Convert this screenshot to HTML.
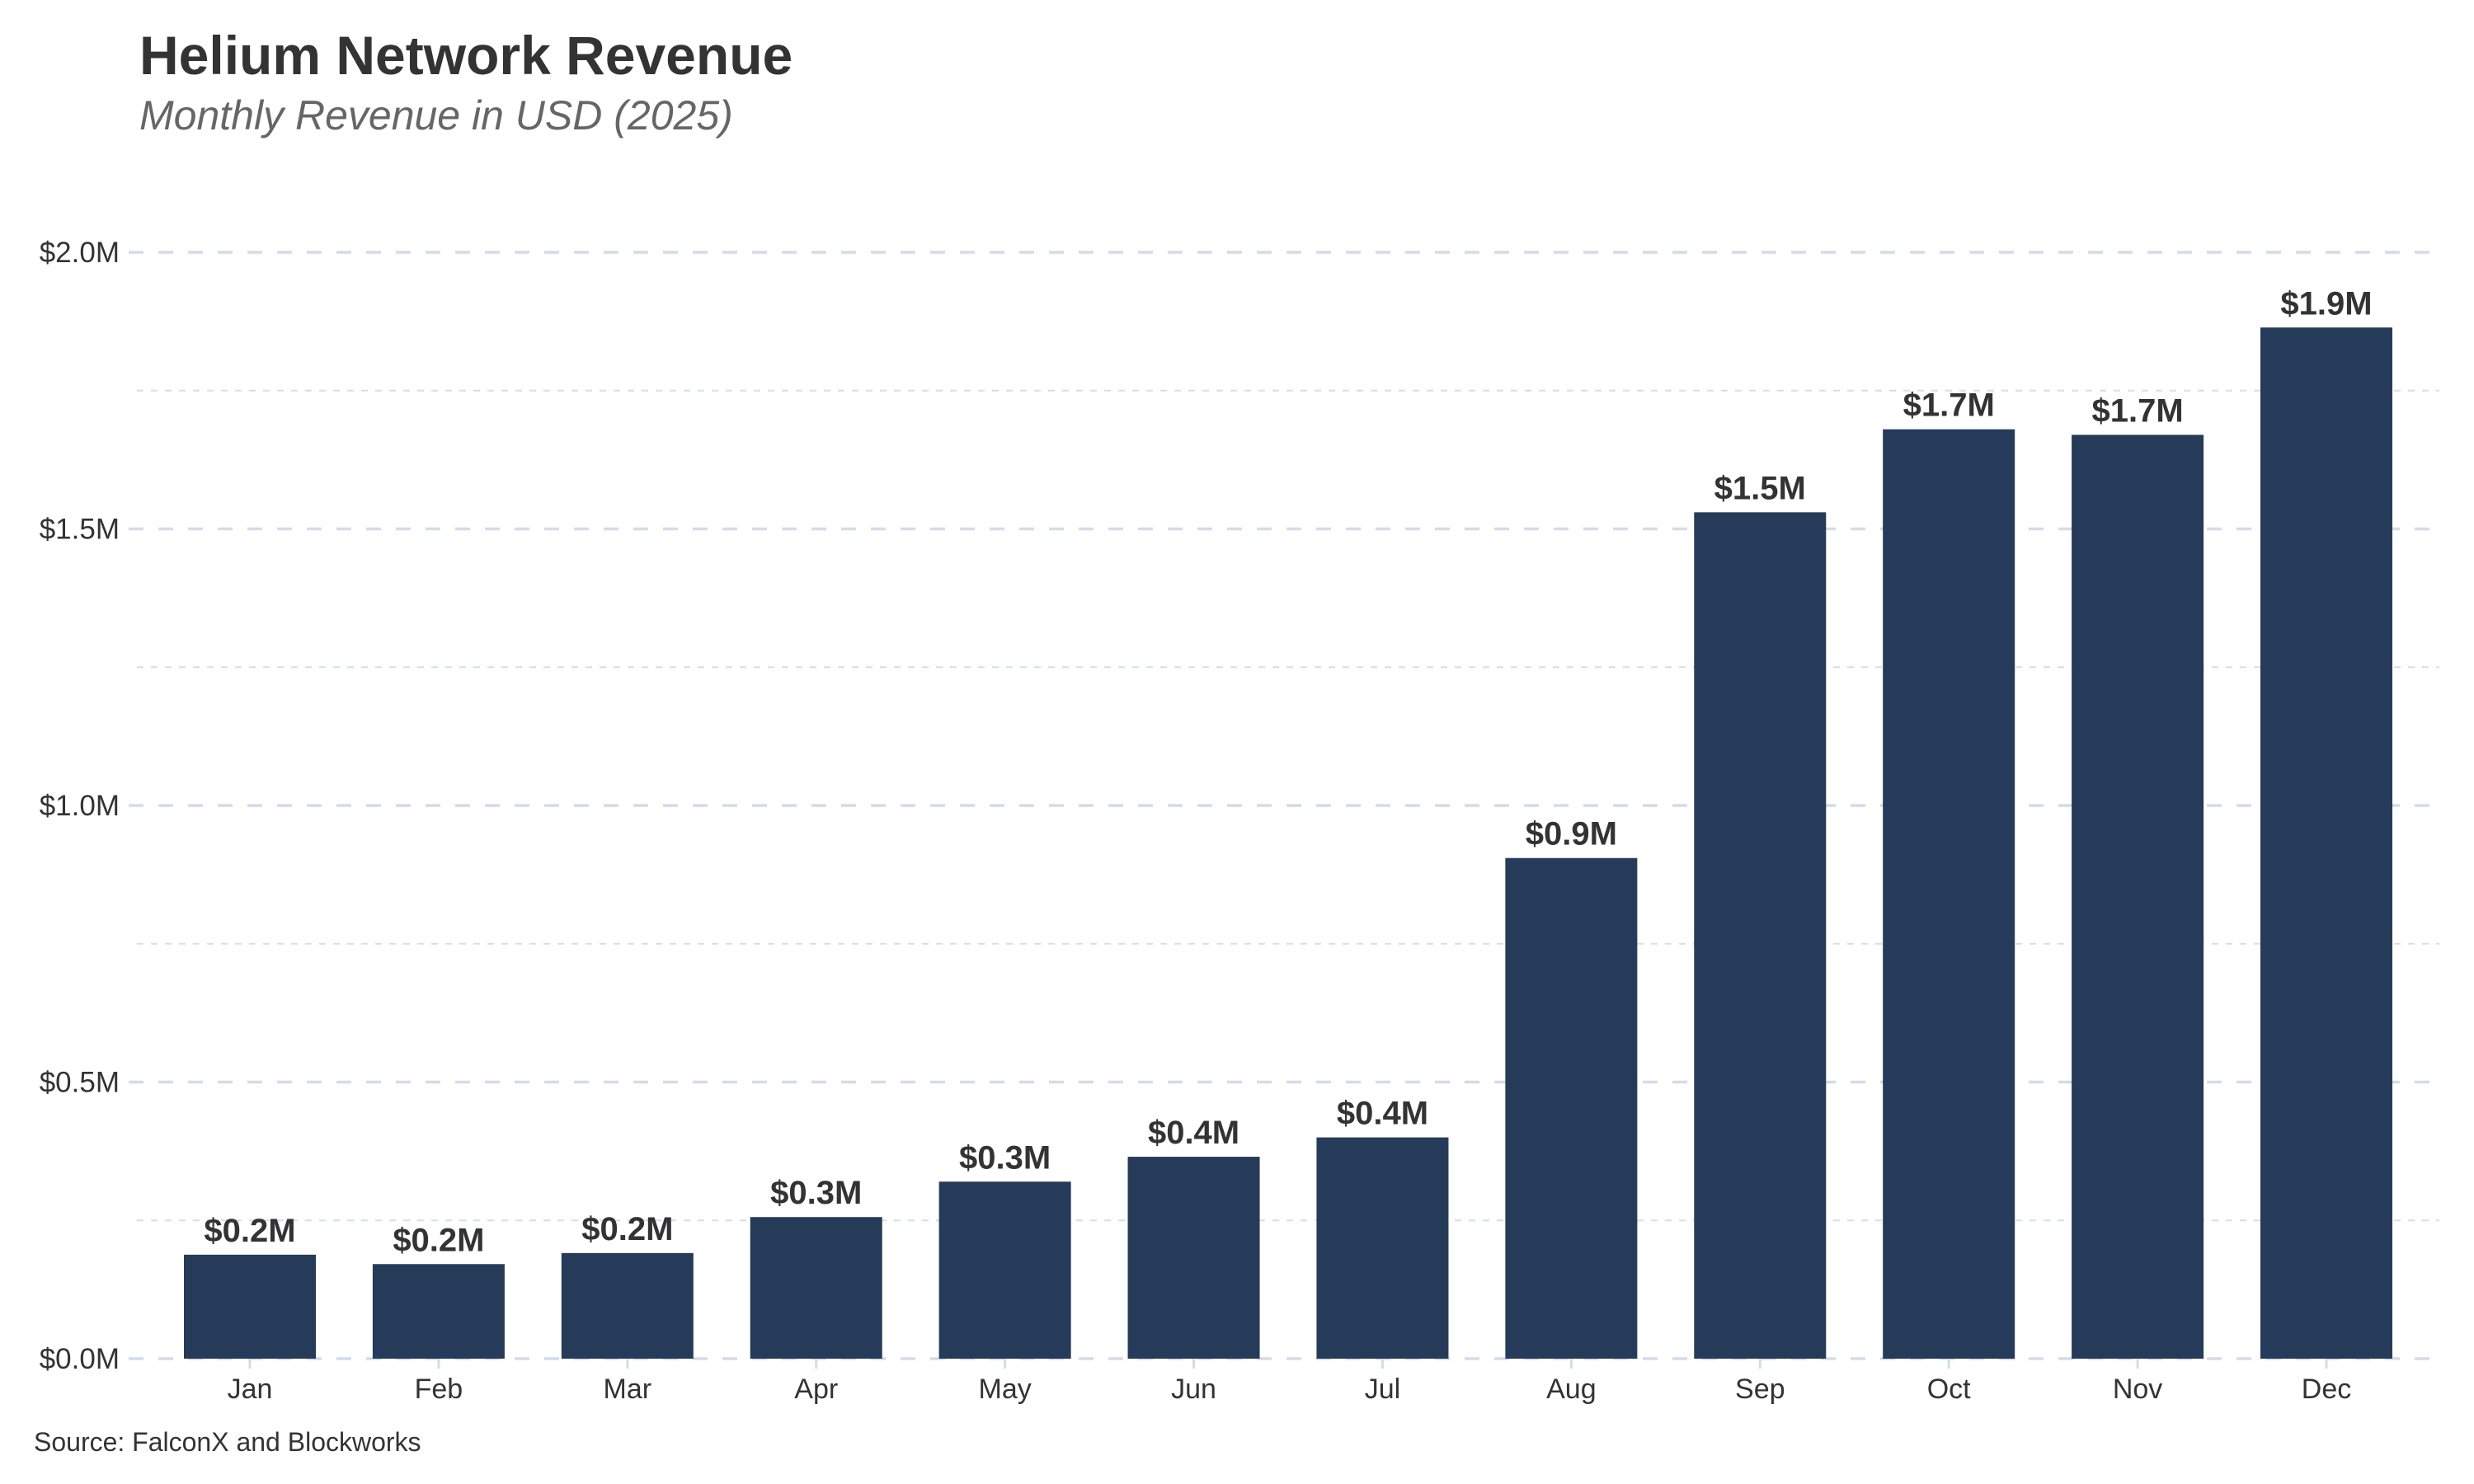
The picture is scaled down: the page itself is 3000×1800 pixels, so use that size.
<!DOCTYPE html>
<html><head><meta charset="utf-8"><style>
html,body{margin:0;padding:0;background:#fff;}
svg{display:block;font-family:"Liberation Sans",sans-serif;}
</style></head><body>
<svg id="chart" width="3000" height="1800" viewBox="0 0 3000 1800" xmlns="http://www.w3.org/2000/svg">
<text x="169" y="90" font-size="66" font-weight="bold" fill="#333">Helium Network Revenue</text>
<text x="169" y="157" font-size="50" font-style="italic" fill="#666">Monthly Revenue in USD (2025)</text>
<g id="grid"></g>
<g id="bars"></g>
<g id="labels"></g>
<text x="41" y="1760" font-size="32" fill="#333">Source: FalconX and Blockworks</text>
</svg>
<script>
const categories = ["Jan","Feb","Mar","Apr","May","Jun","Jul","Aug","Sep","Oct","Nov","Dec"];
const revenue = [0.188,0.171,0.191,0.256,0.32,0.365,0.40,0.905,1.53,1.68,1.67,1.864];
const valueLabels = ["$0.2M","$0.2M","$0.2M","$0.3M","$0.3M","$0.4M","$0.4M","$0.9M","$1.5M","$1.7M","$1.7M","$1.9M"];
const majorTicks = [0,0.5,1.0,1.5,2.0];
const majorTickLabels = ["$0.0M","$0.5M","$1.0M","$1.5M","$2.0M"];
const minorTicks = [0.25,0.75,1.25,1.75];

const NS="http://www.w3.org/2000/svg";
const y0=1648, yTop=306, yMax=2.0;
function yScale(v){return y0-(v/yMax)*(y0-yTop);}
const xFirst=303, step=(2821-303)/11, barW=160;
function xScale(i){return xFirst+i*step;}
function mk(tag,attrs,parent){const e=document.createElementNS(NS,tag);for(const k in attrs)e.setAttribute(k,attrs[k]);parent.appendChild(e);return e;}
const grid=document.getElementById('grid'),bars=document.getElementById('bars'),labels=document.getElementById('labels');
minorTicks.forEach(t=>{
  const l=mk('line',{x1:166,x2:2958,y1:yScale(t),y2:yScale(t),stroke:'#d6deeb','stroke-width':2,'stroke-dasharray':'8 9'},grid);
  
  
});
majorTicks.forEach((t,i)=>{
  const l=mk('line',{x1:156,x2:2958,y1:yScale(t),y2:yScale(t),stroke:'#d3dcea','stroke-width':3.5,'stroke-dasharray':'18 18'},grid);
  
  
  const tx=mk('text',{x:145,y:yScale(t)+12,'text-anchor':'end','font-size':35,fill:'#333'},grid);
  tx.textContent=majorTickLabels[i];
  
  
});
categories.forEach((c,i)=>{
  const cx=xScale(i);
  const tk=mk('line',{x1:cx,x2:cx,y1:y0,y2:y0+12,stroke:'#d3dcea','stroke-width':3},grid);
  
  
  const r=mk('rect',{x:cx-barW/2,y:yScale(revenue[i]),width:barW,height:y0-yScale(revenue[i]),fill:'#263b59'},bars);
  
  
  const v=mk('text',{x:cx,y:yScale(revenue[i])-16,'text-anchor':'middle','font-size':40,'font-weight':'bold',fill:'#333'},labels);
  v.textContent=valueLabels[i];
  
  
  const xl=mk('text',{x:cx,y:1696,'text-anchor':'middle','font-size':34,fill:'#333'},labels);
  xl.textContent=c;
  
  
});
</script>
</body></html>
